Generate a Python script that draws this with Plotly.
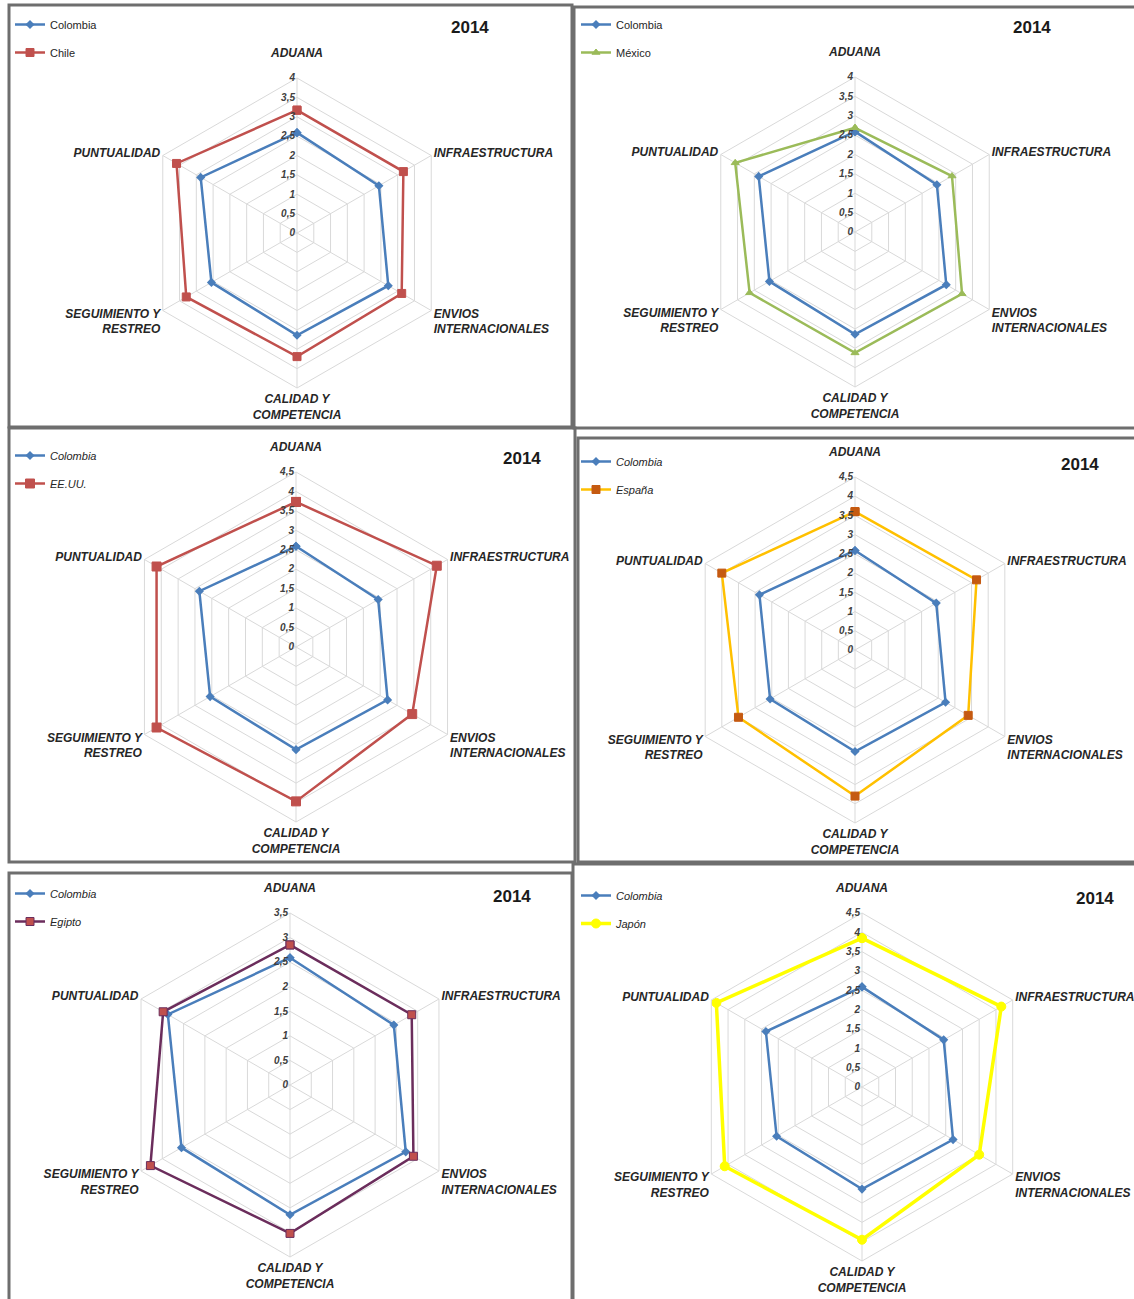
import plotly.graph_objects as go

W, H = 1134, 1299

categorias = ["ADUANA<br> ", "INFRAESTRUCTURA", "ENVIOS<br>INTERNACIONALES",
              "CALIDAD Y<br>COMPETENCIA", "SEGUIMIENTO Y<br>RESTREO", "PUNTUALIDAD"]

colombia = [2.59, 2.44, 2.72, 2.64, 2.55, 2.87]
chile = [3.17, 3.17, 3.12, 3.19, 3.30, 3.59]
mexico = [2.69, 2.89, 3.19, 3.12, 3.14, 3.57]
eeuu = [3.73, 4.18, 3.45, 3.97, 4.14, 4.14]
espana = [3.60, 3.65, 3.40, 3.80, 3.50, 4.00]
egipto = [2.85, 2.86, 2.90, 3.02, 3.28, 2.98]
japon = [3.85, 4.16, 3.50, 3.95, 4.10, 4.35]

paises = ["Chile", "México", "EE.UU.", "España", "Egipto", "Japón"]
valores = [chile, mexico, eeuu, espana, egipto, japon]
rangos_max = [4, 4, 4.5, 4.5, 3.5, 4.5]
anio = "2014"

# styling / layout (pixels)
estilos = [
    dict(line="#C0504D", marker="#C0504D", mline="#C0504D", symbol="square", size=8, width=2.5),
    dict(line="#9BBB59", marker="#9BBB59", mline="#9BBB59", symbol="triangle-up", size=7, width=2.5),
    dict(line="#C0504D", marker="#C0504D", mline="#C0504D", symbol="square", size=9, width=2.5),
    dict(line="#FFC000", marker="#C55A11", mline="#C55A11", symbol="square", size=8, width=2.5),
    dict(line="#6B2D5C", marker="#C0504D", mline="#6B2D5C", symbol="square", size=8, width=2.5),
    dict(line="#FFFF00", marker="#FFFF00", mline="#FFFF00", symbol="circle", size=9, width=3.5),
]
centros = [(297, 233, 155), (855, 232, 155), (296, 647, 175),
           (855, 650, 173), (290, 1085, 172), (862, 1087, 174)]
leyendas = [(10, 10), (576, 10), (10, 441), (576, 447), (10, 879), (576, 881)]
titulos = [(470, 27), (1032, 28), (522, 458), (1080, 464), (512, 896), (1095, 898)]
cajas = [(9, 5, 572, 427), (574, 7, 1140, 428), (9, 428, 575, 862),
         (578, 438, 1140, 862), (9, 873, 572, 1305), (573, 864, 1140, 1305)]
cursiva_leyenda = [False, False, True, True, True, True]

AZUL = "#4A7EBB"
GRID = "#D9D9D9"
FONT = "Liberation Sans"

fig = go.Figure()
layout = {}
shapes = []
annotations = []

for i in range(6):
    pid = "polar" if i == 0 else f"polar{i+1}"
    lid = "legend" if i == 0 else f"legend{i+1}"
    e = estilos[i]
    theta = categorias + [categorias[0]]
    fig.add_trace(go.Scatterpolar(
        r=colombia + [colombia[0]], theta=theta, name="Colombia",
        mode="lines+markers", subplot=pid, legend=lid, legendgroup=f"c{i}",
        line=dict(color=AZUL, width=2.5),
        marker=dict(symbol="diamond", size=7, color=AZUL),
    ))
    v = valores[i]
    fig.add_trace(go.Scatterpolar(
        r=v + [v[0]], theta=theta, name=paises[i],
        mode="lines+markers", subplot=pid, legend=lid, legendgroup=f"p{i}",
        line=dict(color=e["line"], width=e["width"]),
        marker=dict(symbol=e["symbol"], size=e["size"], color=e["marker"],
                    line=dict(color=e["mline"], width=1)),
    ))
    cx, cy, rr = centros[i]
    layout[pid] = dict(
        domain=dict(x=[(cx - rr) / W, (cx + rr) / W],
                    y=[1 - (cy + rr) / H, 1 - (cy - rr) / H]),
        gridshape="linear",
        bgcolor="white",
        angularaxis=dict(rotation=90, direction="clockwise", showgrid=True,
                         gridcolor=GRID, gridwidth=1, showline=True,
                         linecolor=GRID, linewidth=1, ticks="",
                         tickfont=dict(family=FONT, size=12, color="#262626",
                                       weight="bold", style="italic")),
        radialaxis=dict(range=[0, rangos_max[i]], dtick=0.5, tick0=0,
                        angle=90, side="counterclockwise", tickangle=90,
                        showline=False, gridcolor=GRID, gridwidth=1, ticks="",
                        tickfont=dict(family=FONT, size=10, color="#404040",
                                      weight="bold", style="italic")),
    )
    lx, ly = leyendas[i]
    layout[lid] = dict(
        x=lx / W, y=1 - ly / H, xanchor="left", yanchor="top",
        bgcolor="rgba(0,0,0,0)", tracegroupgap=9, traceorder="grouped",
        font=dict(family=FONT, size=11, color="#262626",
                  style="italic" if cursiva_leyenda[i] else "normal"),
    )
    tx, ty = titulos[i]
    annotations.append(dict(
        text=f"<b>{anio}</b>", x=tx / W, y=1 - ty / H, xref="paper", yref="paper",
        showarrow=False, xanchor="center", yanchor="middle",
        font=dict(family=FONT, size=17, color="#1a1a1a")))
    x0, y0, x1, y1 = cajas[i]
    shapes.append(dict(type="rect", xref="paper", yref="paper",
                       x0=x0 / W, x1=x1 / W, y0=1 - y1 / H, y1=1 - y0 / H,
                       line=dict(color="#6E6E6E", width=3), fillcolor="rgba(0,0,0,0)"))

fig.update_layout(
    width=W, height=H, margin=dict(l=0, r=0, t=0, b=0),
    paper_bgcolor="white", separators=",.", showlegend=True,
    shapes=shapes, annotations=annotations, **layout,
)

fig.write_html("out.html")
